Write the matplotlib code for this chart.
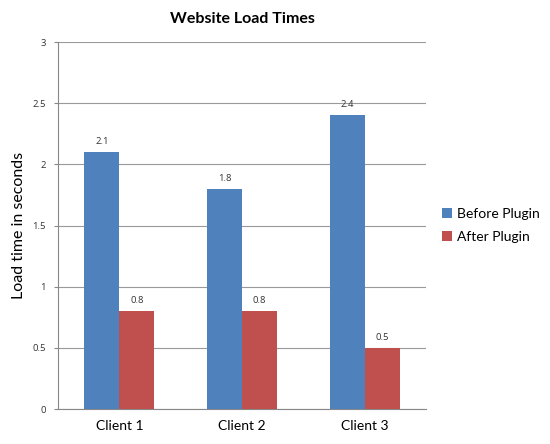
import matplotlib.pyplot as plt
import numpy as np

clients = ['Client 1', 'Client 2', 'Client 3']
before = [2.1, 1.8, 2.4]
after = [0.8, 0.8, 0.5]
yticks = [0, 0.5, 1, 1.5, 2, 2.5, 3]
ytick_labels = ['0', '0.5', '1', '1.5', '2', '2.5', '3']

plt.rcParams['font.family'] = ['Lato', 'DejaVu Sans']
small = ['Open Sans', 'DejaVu Sans']

fig = plt.figure(figsize=(5.5, 4.44), dpi=100)
ax = fig.add_axes([0.1055, 0.0788, 0.669, 0.8266])

x = np.arange(len(clients))
w = 0.285
b1 = ax.bar(x - w / 2, before, w, color='#4F81BD', label='Before Plugin', zorder=3)
b2 = ax.bar(x + w / 2, after, w, color='#C0504D', label='After Plugin', zorder=3)

for bars, vals in ((b1, before), (b2, after)):
    for bar, v in zip(bars, vals):
        ax.text(bar.get_x() + bar.get_width() / 2, v + 0.05, f'{v:g}',
                ha='center', va='bottom', fontsize=6.8, color='#333333',
                family=small)

ax.set_xlim(-0.5, 2.5)
ax.set_ylim(0, 3)
ax.set_yticks(yticks)
ax.set_yticklabels(ytick_labels, fontsize=6.8, color='#333333', family=small)
ax.set_xticks(x)
ax.set_xticklabels(clients, fontsize=10)
ax.tick_params(axis='x', length=0, pad=8)
ax.tick_params(axis='y', length=3, color='#888888', pad=6)
ax.yaxis.grid(True, color='#999999', linewidth=0.8, zorder=0)
for s in ('top', 'right'):
    ax.spines[s].set_visible(False)
for s in ('left', 'bottom'):
    ax.spines[s].set_color('#888888')
    ax.spines[s].set_linewidth(0.8)

ax.set_ylabel('Load time in seconds', fontsize=11.5, labelpad=4)
ax.set_title('Website Load Times', fontsize=11.5, fontweight='bold', pad=14)

ax.legend(loc='center left', bbox_to_anchor=(1.01, 0.5), frameon=False,
          fontsize=10, handlelength=0.7, handleheight=0.7, handletextpad=0.4,
          labelspacing=0.8)

fig.savefig('out.png', dpi=100)
